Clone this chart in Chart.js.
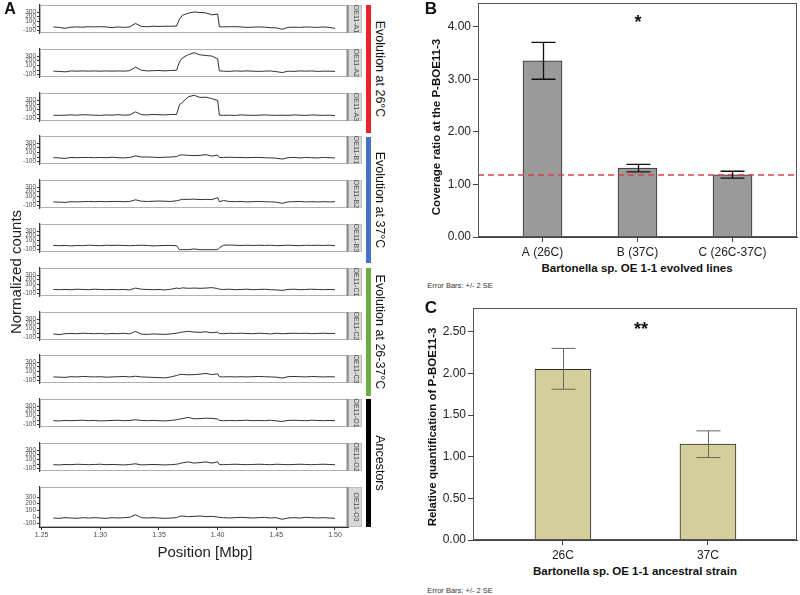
<!DOCTYPE html>
<html>
<head>
<meta charset="utf-8">
<script src="https://cdn.jsdelivr.net/npm/chart.js@4.4.1/dist/chart.umd.min.js"></script>
<style>
    body { margin: 0; background: #fff; }
    #page { position: relative; width: 800px; height: 595px; overflow: hidden; background: #fff; font-family: "Liberation Sans", Arial, sans-serif; color: #111; }
    #page canvas { position: absolute; }
    .txt { position: absolute; white-space: nowrap; transform: translate(-50%, -50%); }
    .up { transform: translate(-50%, -50%) rotate(-90deg); }
    .down { transform: translate(-50%, -50%) rotate(90deg); }
    .bold { font-weight: bold; }
    .bar { position: absolute; width: 5px; }
</style>
</head>
<body>
<div id="page"></div>
<script>
// ---- panel A : coverage along the plasmid region ----
var positions = [1.26, 1.265, 1.27, 1.275, 1.28, 1.285, 1.29, 1.295, 1.30, 1.305,
    1.31, 1.315, 1.32, 1.325, 1.33, 1.335, 1.34, 1.345, 1.35, 1.355,
    1.36, 1.365, 1.3675, 1.37, 1.375, 1.38, 1.385, 1.39, 1.395, 1.40,
    1.4015, 1.405, 1.41, 1.415, 1.42, 1.425, 1.43, 1.435, 1.44, 1.445,
    1.45, 1.455, 1.46, 1.465, 1.47, 1.475, 1.48, 1.485, 1.49, 1.495, 1.50];

var a1 = [-20, -30, -50, -25, -20, -25, -15, -20, -15, -20, -35, -20, -30, -20, 55, -10, -15, -5, -10, -5,
    -5, 0, 150, 230, 275, 300, 290, 280, 240, 255, -15, -20, -15, -15, -20, -30, -25, -20, -25, -35,
    -40, -70, -30, -25, -30, -20, -25, -30, -20, -30, -50];
var a2 = [-25, -30, -40, -20, -25, -20, -25, -20, -25, -20, -25, -20, -25, -15, 60, -5, -20, -15, -10, -20,
    -10, -5, 175, 260, 330, 370, 325, 310, 300, 240, -20, -25, -30, -20, -25, -20, -25, -30, -25, -20,
    -35, -55, -25, -30, -20, -25, -20, -30, -25, -25, -30];
var a3 = [-25, -30, -25, -20, -25, -15, -20, -25, -30, -20, -25, -15, -25, -20, 45, -15, -20, -10, -15, -20,
    -10, -10, 200, 250, 370, 400, 355, 360, 330, 290, -25, -30, -25, -30, -20, -25, -30, -25, -20, -25,
    -30, -25, -30, -20, -25, -30, -20, -25, -30, -25, -35];
var b1 = [-15, -20, -30, -10, -15, -10, -10, -15, -10, -15, -5, -15, -20, -10, 25, 0, 0, -5, -10, -5,
    0, 10, 40, 45, 35, 30, 35, 50, 20, 40, -10, -10, -5, -10, -10, -15, -10, -10, -15, -20,
    -25, -45, -15, -10, -20, -10, -15, -20, -10, -15, -20];
var b2 = [-20, -25, -30, -15, -20, -15, -10, -15, -10, -15, -10, -10, -15, -10, 25, -5, -10, -5, 0, -5,
    -10, 5, 20, 35, 35, 40, 30, 35, 30, 70, -15, 10, -10, -15, -10, -20, -15, -10, -15, -20,
    -25, -50, -20, -15, -10, -20, -15, -20, -15, -20, -15];
var b3 = [-10, -15, -10, -20, -10, -15, -5, -10, -15, -5, -10, -5, -10, -15, -10, -5, -10, -20, -15, -10,
    -10, -15, -100, -100, -100, -85, -100, -100, -100, -100, -60, -5, 0, -5, -10, -5, -10, -5, -10, -5,
    -15, -10, -5, -10, -15, -5, -10, -5, -10, -5, -15];
var c1 = [-10, -15, -10, -15, -5, -10, -15, -5, -10, -15, -10, -15, -10, -20, 20, -5, -10, -15, -10, -20,
    -5, 20, 10, 25, 15, 20, 15, 20, 30, 10, -5, -10, -5, -15, -10, -5, -15, -10, -5, -15,
    -20, -30, -10, -5, -15, -10, -5, -10, -15, -10, -15];
var c2 = [-20, -35, -15, -10, -15, -5, -10, -15, -10, -20, -10, -15, -5, -20, 35, -25, -30, -20, -25, -30,
    -20, -5, 10, 20, 35, 20, 15, 25, 5, 20, -10, -15, -5, -10, -5, -10, -15, -5, -10, -20,
    -5, -15, -10, -5, -10, -5, -15, -10, -5, -10, -10];
var c3 = [-20, -25, -30, -15, -20, -10, -15, -20, -15, -25, -20, -15, -10, -20, -5, -20, -25, -30, -35, -40,
    -20, 10, 30, 35, 25, 30, 40, 55, 30, 45, -15, -20, -15, -20, -15, -20, -15, -10, -15, -20,
    -25, -45, -15, -10, -15, -20, -10, -15, -20, -15, -20];
var o1 = [-15, -20, -10, -15, -10, -5, -15, -10, -20, -15, -10, -5, -15, -10, 5, -10, -15, -10, -15, -20,
    -10, 5, 20, 30, 55, 25, 30, 40, 35, 20, -10, -15, -10, -15, -10, -5, -15, -10, -15, -5,
    -20, -30, -10, -5, -10, -15, -5, -10, -15, -10, -15];
var o2 = [-15, -20, -10, -15, -5, -10, -15, -10, -5, -15, -10, -15, -20, -10, 5, -20, -15, -10, -15, -20,
    -15, -5, 10, 25, 45, 20, 30, 45, 20, 45, -10, -15, -10, -5, -10, -15, -10, -5, -10, -15,
    -5, -10, -15, -10, -5, -10, -15, -10, -5, -10, -15];
var o3 = [-15, -20, -10, -15, -20, -10, -15, -10, -15, -20, -10, -15, -10, -5, 35, -10, -15, -10, -15, -20,
    -15, -10, 10, 15, 5, 10, 15, 5, 10, 0, -5, -10, -15, -10, -5, -10, -15, -10, -5, -15,
    -10, -35, -15, -10, -15, -5, -10, -15, -10, -15, -20];

var facetSeries = [a1, a2, a3, b1, b2, b3, c1, c2, c3, o1, o2, o3];
var facetLabels = ['OE11-A1', 'OE11-A2', 'OE11-A3', 'OE11-B1', 'OE11-B2', 'OE11-B3',
    'OE11-C1', 'OE11-C2', 'OE11-C3', 'OE11-O1', 'OE11-O2', 'OE11-O3'];
var countTicks = [-100, 0, 100, 200, 300];
var mbpTicks = [1.25, 1.30, 1.35, 1.40, 1.45, 1.50];
var groupNames = ['Evolution at 26°C', 'Evolution at 37°C', 'Evolution at 26-37°C', 'Ancestors'];
var groupColors = ['#e8242a', '#4472c4', '#6aad45', '#000000'];

// ---- panel B : coverage ratio ----
var linesB = ['A (26C)', 'B (37C)', 'C (26C-37C)'];
var meanB = [3.35, 1.31, 1.18];
var lowB = [3.00, 1.24, 1.12];
var highB = [3.70, 1.38, 1.25];
var refB = 1.18;
var ticksB = [0, 1, 2, 3, 4];

// ---- panel C : qPCR ----
var strainsC = ['26C', '37C'];
var meanC = [2.05, 1.15];
var lowC = [1.81, 0.99];
var highC = [2.30, 1.31];
var ticksC = [0, 0.5, 1, 1.5, 2, 2.5];

var FONT = '"Liberation Sans", Arial, sans-serif';
Chart.defaults.font.family = FONT;
Chart.defaults.animation = false;

var page = document.getElementById('page');

function addText(txt, x, y, size, cls, color) {
    var d = document.createElement('div');
    d.className = 'txt ' + (cls || '');
    d.style.left = x + 'px';
    d.style.top = y + 'px';
    d.style.fontSize = size + 'px';
    if (color) d.style.color = color;
    d.textContent = txt;
    page.appendChild(d);
}

function addCanvas(left, top, w, h) {
    var c = document.createElement('canvas');
    c.width = w;
    c.height = h;
    c.style.left = left + 'px';
    c.style.top = top + 'px';
    c.style.width = w + 'px';
    c.style.height = h + 'px';
    page.appendChild(c);
    return c;
}

// fixed-width y axis, no extra room for the end labels
function fixWidth(w) {
    return function (s) {
        s.width = w;
        s.paddingTop = 0;
        s.paddingBottom = 0;
    };
}

// border + strip of each facet
var facetDeco = {
    id: 'facetDeco',
    afterDraw: function (chart) {
        var a = chart.chartArea, ctx = chart.ctx;
        ctx.save();
        ctx.strokeStyle = '#b0b0b0';
        ctx.lineWidth = 1;
        ctx.strokeRect(a.left + 0.5, a.top + 0.5, a.right - a.left - 1, a.bottom - a.top - 1);
        ctx.fillStyle = '#d9d9d9';
        ctx.fillRect(a.right, a.top, 14, a.bottom - a.top);
        ctx.strokeStyle = '#bdbdbd';
        ctx.strokeRect(a.right + 0.5, a.top + 0.5, 13, a.bottom - a.top - 1);
        ctx.fillStyle = '#8a8a8a';
        ctx.fillRect(a.right - 1.5, a.top, 2, a.bottom - a.top);
        ctx.fillStyle = '#4d4d4d';
        ctx.font = '7px ' + FONT;
        ctx.textAlign = 'center';
        ctx.textBaseline = 'middle';
        ctx.translate(a.right + 7.5, (a.top + a.bottom) / 2);
        ctx.rotate(Math.PI / 2);
        ctx.fillText(chart.options.plugins.facetDeco.label, 0, 0);
        ctx.restore();
    }
};

function facetChart(i) {
    var last = i === facetSeries.length - 1;
    var top = Math.round(5 + i * 43.8);
    var cv = addCanvas(0, top - 2, 365, last ? 56 : 44);
    var vals = facetSeries[i];
    new Chart(cv, {
        type: 'line',
        data: {
            datasets: [{
                data: positions.map(function (p, k) { return { x: p, y: vals[k] }; }),
                borderColor: '#1a1a1a',
                borderWidth: 0.9,
                pointRadius: 0,
                tension: 0
            }]
        },
        options: {
            responsive: false,
            devicePixelRatio: 1,
            layout: { padding: { top: 2, bottom: 2, left: 0, right: 17 } },
            plugins: { legend: { display: false }, tooltip: { enabled: false }, facetDeco: { label: facetLabels[i] } },
            scales: {
                x: {
                    type: 'linear', min: 1.2486, max: 1.5111,
                    display: last,
                    afterBuildTicks: function (s) { s.ticks = mbpTicks.map(function (v) { return { value: v }; }); },
                    afterFit: function (s) { s.height = 12; },
                    ticks: { font: { size: 7 }, color: '#4d4d4d', padding: 1, maxRotation: 0, autoSkip: false,
                        callback: function (v) { return v.toFixed(2); } },
                    grid: { drawOnChartArea: false, tickLength: 3, color: '#333' },
                    border: { color: '#333' }
                },
                y: {
                    min: -150, max: 450,
                    afterBuildTicks: function (s) { s.ticks = countTicks.map(function (v) { return { value: v }; }); },
                    afterFit: fixWidth(40),
                    ticks: { font: { size: 6.5 }, color: '#4d4d4d', padding: 1, autoSkip: false },
                    grid: { drawOnChartArea: false, tickLength: 3, color: '#333' },
                    border: { color: '#333', width: 1.2 }
                }
            }
        },
        plugins: [facetDeco]
    });
}

for (var i = 0; i < facetSeries.length; i++) facetChart(i);

// group bars and labels at the right of panel A
var groupSpans = [[5, 133], [137, 263], [268, 396], [399, 527]];
groupSpans.forEach(function (s, g) {
    var d = document.createElement('div');
    d.className = 'bar';
    d.style.left = '366px';
    d.style.top = s[0] + 'px';
    d.style.height = (s[1] - s[0]) + 'px';
    d.style.background = groupColors[g];
    page.appendChild(d);
    addText(groupNames[g], 380, (s[0] + s[1]) / 2, 12.5, 'down');
});

addText('A', 10, 9, 16, 'bold');
addText('Normalized counts', 15, 272, 15, 'up', '#222');
addText('Position [Mbp]', 205, 551, 15, '', '#222');

// error bars, reference line and frame for panels B and C
var barDeco = {
    id: 'barDeco',
    afterDatasetsDraw: function (chart) {
        var o = chart.options.plugins.barDeco;
        var x = chart.scales.x, y = chart.scales.y, a = chart.chartArea, ctx = chart.ctx;
        ctx.save();
        if (o.ref !== undefined) {
            ctx.strokeStyle = '#d9414f';
            ctx.lineWidth = 1.4;
            ctx.setLineDash([6, 4]);
            var ry = Math.round(y.getPixelForValue(o.ref));
            ctx.beginPath();
            ctx.moveTo(a.left, ry);
            ctx.lineTo(a.right, ry);
            ctx.stroke();
            ctx.setLineDash([]);
        }
        ctx.strokeStyle = o.errColor;
        ctx.lineWidth = o.errWidth;
        o.low.forEach(function (lo, k) {
            var px = Math.round(x.getPixelForValue(k)) + 0.5;
            var yl = y.getPixelForValue(lo), yh = y.getPixelForValue(o.high[k]);
            ctx.beginPath();
            ctx.moveTo(px, yl); ctx.lineTo(px, yh);
            ctx.moveTo(px - o.cap, yl); ctx.lineTo(px + o.cap, yl);
            ctx.moveTo(px - o.cap, yh); ctx.lineTo(px + o.cap, yh);
            ctx.stroke();
        });
        ctx.strokeStyle = '#555';
        ctx.lineWidth = 1;
        ctx.strokeRect(a.left + 0.5, a.top + 0.5, a.right - a.left - 1, a.bottom - a.top - 1);
        ctx.restore();
    }
};

function barChart(cv, cats, means, lows, highs, o) {
    new Chart(cv, {
        type: 'bar',
        data: {
            datasets: [{
                data: cats.map(function (c, k) { return { x: k, y: means[k] }; }),
                backgroundColor: o.fill,
                borderColor: '#2b2b2b',
                borderWidth: 1,
                barThickness: o.thick
            }]
        },
        options: {
            responsive: false,
            devicePixelRatio: 1,
            layout: { padding: { top: o.padTop, right: 3, left: 0, bottom: 0 } },
            plugins: {
                legend: { display: false }, tooltip: { enabled: false },
                barDeco: { low: lows, high: highs, ref: o.ref, errColor: o.errColor, errWidth: o.errWidth, cap: o.cap }
            },
            scales: {
                x: {
                    type: 'linear', min: o.xmin, max: o.xmax, offset: false,
                    afterBuildTicks: function (s) { s.ticks = cats.map(function (c, k) { return { value: k }; }); },
                    afterFit: function (s) { s.height = 25; },
                    ticks: { font: { size: 12 }, color: '#222', padding: 3, maxRotation: 0, autoSkip: false,
                        callback: function (v) { return cats[v]; } },
                    grid: { drawOnChartArea: false, offset: false, tickLength: 5, color: '#444' },
                    border: { color: '#444' }
                },
                y: {
                    min: 0, max: o.ymax,
                    afterBuildTicks: function (s) { s.ticks = o.yticks.map(function (v) { return { value: v }; }); },
                    afterFit: fixWidth(o.axisW),
                    ticks: { font: { size: 12 }, color: '#222', padding: 2, autoSkip: false,
                        callback: function (v) { return v.toFixed(2); } },
                    grid: { drawOnChartArea: false, tickLength: 5, color: '#444' },
                    border: { color: '#444' }
                }
            }
        },
        plugins: [barDeco]
    });
}

barChart(addCanvas(390, 0, 410, 262), linesB, meanB, lowB, highB, {
    fill: '#9a9a9a', thick: 39, padTop: 3, xmin: -0.679, xmax: 2.679, ymax: 4.45,
    yticks: ticksB, axisW: 88, ref: refB, errColor: '#111', errWidth: 1.3, cap: 12
});
barChart(addCanvas(390, 290, 410, 275), strainsC, meanC, lowC, highC, {
    fill: '#d4cf9a', thick: 56, padTop: 18, xmin: -0.62, xmax: 1.614, ymax: 2.785,
    yticks: ticksC, axisW: 83, errColor: '#666', errWidth: 1, cap: 12
});

addText('B', 431, 9, 17, 'bold');
addText('*', 638, 22, 18, 'bold');
addText('Coverage ratio at the P-BOE11-3', 436, 127, 11.5, 'up bold');
addText('Bartonella sp. OE 1-1 evolved lines', 637, 268, 11.5, 'bold');
addText('Error Bars: +/- 2 SE', 460, 285, 7.5, '', '#333');

addText('C', 431, 308, 17, 'bold');
addText('**', 641, 329, 18, 'bold');
addText('Relative quantification of P-BOE11-3', 432, 427, 11.5, 'up bold');
addText('Bartonella sp. OE 1-1 ancestral strain', 635, 571, 11.5, 'bold');
addText('Error Bars: +/- 2 SE', 460, 590, 7.5, '', '#333');
</script>
</body>
</html>
